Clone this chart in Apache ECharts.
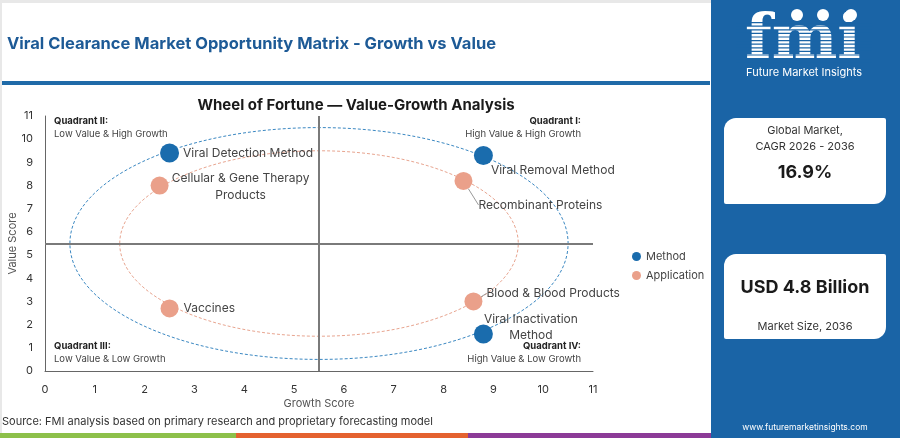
<!DOCTYPE html>
<html>
<head>
<meta charset="utf-8">
<script src="https://cdn.jsdelivr.net/npm/echarts@6.0.0/dist/echarts.min.js"></script>
<style>
  html, body { margin: 0; padding: 0; background: #ffffff; }
  #chart { width: 900px; height: 438px; }
</style>
</head>
<body>
<div id="chart"></div>
<script>
// ---------- data ----------
const methodNames  = ['Viral Removal Method', 'Viral Detection Method', 'Viral Inactivation\nMethod'];
const methodGrowth = [8.8, 2.5, 8.8];
const methodValue  = [9.3, 9.4, 1.6];

const appNames  = ['Recombinant Proteins', 'Cellular & Gene Therapy\nProducts', 'Blood & Blood Products', 'Vaccines'];
const appGrowth = [8.4, 2.3, 8.6, 2.5];
const appValue  = [8.2, 8.0, 3.0, 2.7];

// reference rings: [centre growth, centre value, radius]
const ringMethod = [5.5, 5.5, 5];
const ringApp    = [5.5, 5.5, 4];

const quadrantSplit = 5.5;
const axisTicks = [0, 11, 1]; // min, max, interval

// ---------- presentation ----------
const FONT = 'Inter, "Open Sans", sans-serif';
const BLUE = '#1a6cad';
const SALMON = '#eaa08a';
const PANEL = '#1a64a6';

// label shifts (px) and alignment per point
const methodShift = [[-7, 15, 'left'], [-1, 0, 'left'], [33, -7, 'center']];
const methodLine  = [false, false, false];
const appShift    = [[1, 24, 'left'], [67, 1, 'center'], [-1, -8, 'left'], [0, 0, 'left']];
const appLine     = [true, false, true, false];

function buildPoints(names, xs, ys, shifts, lines) {
  return names.map((n, i) => ({
    name: n,
    value: [xs[i], ys[i]],
    label: { align: shifts[i][2] },
    labelLine: { show: lines[i], lineStyle: { color: '#999', width: 1 }, length2: 0 }
  }));
}

function ringItem(color) {
  return function (params, api) {
    const c = api.coord([api.value(0), api.value(1)]);
    const s = api.size([api.value(2), api.value(2)]);
    return {
      type: 'ellipse',
      silent: true,
      shape: { cx: c[0], cy: c[1], rx: s[0], ry: s[1] },
      style: { fill: 'none', stroke: color, lineWidth: 1, lineDash: [3, 2] }
    };
  };
}

const chart = echarts.init(document.getElementById('chart'), null, { renderer: 'canvas' });

function qText(x, y, title, sub, align) {
  return [
    { type: 'text', x: x, y: y, style: { text: title, font: 'bold 9.5px ' + FONT, fill: '#222', align: align, verticalAlign: 'middle' } },
    { type: 'text', x: x, y: y + 13, style: { text: sub, font: '9.5px ' + FONT, fill: '#444', align: align, verticalAlign: 'middle' } }
  ];
}

// logo stripes
const stripes = [];
for (let k = 0; k < 12; k++) {
  stripes.push({ type: 'rect', shape: { x: 736, y: 22 + k * 3.6, width: 136, height: 1.2 }, style: { fill: PANEL }, z: 12 });
}

const option = {
  backgroundColor: '#ffffff',
  animation: false,
  textStyle: { fontFamily: FONT },
  grid: { left: 45, right: 307, top: 116, bottom: 67, containLabel: false, outerBoundsMode: 'none' },
  legend: {
    orient: 'vertical',
    left: 627, top: 246,
    itemGap: 8, itemWidth: 9, itemHeight: 9,
    icon: 'circle',
    data: ['Method', 'Application'],
    textStyle: { fontSize: 11, color: '#444', fontFamily: FONT }
  },
  xAxis: {
    type: 'value', min: axisTicks[0], max: axisTicks[1], interval: axisTicks[2],
    name: 'Growth Score', nameLocation: 'middle', nameGap: 27, nameMoveOverlap: false,
    nameTextStyle: { fontSize: 11, color: '#555', fontFamily: FONT },
    axisLine: { show: true, lineStyle: { color: '#666', width: 1 } },
    axisTick: { show: false },
    axisLabel: { margin: 13, fontSize: 11, color: '#333', fontFamily: FONT },
    splitLine: { show: false }
  },
  yAxis: {
    type: 'value', min: axisTicks[0], max: axisTicks[1], interval: axisTicks[2],
    name: 'Value Score', nameLocation: 'middle', nameGap: 27, nameMoveOverlap: false,
    nameTextStyle: { fontSize: 11, color: '#555', fontFamily: FONT },
    axisLine: { show: true, lineStyle: { color: '#666', width: 1 } },
    axisTick: { show: false },
    axisLabel: { margin: 12, fontSize: 11, color: '#333', fontFamily: FONT },
    splitLine: { show: false }
  },
  series: [
    {
      type: 'custom', name: 'ringMethod', silent: true, clip: false, z: 1,
      encode: { x: 0, y: 1 },
      data: [ringMethod],
      renderItem: ringItem('#3b88c2'),
      markLine: {
        silent: true, symbol: 'none', animation: false,
        label: { show: false },
        lineStyle: { color: '#7a7a7a', width: 2, type: 'solid' },
        data: [{ xAxis: quadrantSplit }, { yAxis: quadrantSplit }]
      }
    },
    {
      type: 'custom', name: 'ringApp', silent: true, clip: false, z: 1,
      encode: { x: 0, y: 1 },
      data: [ringApp],
      renderItem: ringItem('#e8a590')
    },
    {
      type: 'scatter', name: 'Method', z: 5,
      symbolSize: 19,
      itemStyle: { color: BLUE, opacity: 1 },
      data: buildPoints(methodNames, methodGrowth, methodValue, methodShift, methodLine),
      label: {
        show: true, position: 'right', distance: 5,
        formatter: '{b}', fontSize: 12, color: '#444', lineHeight: 16, fontFamily: FONT
      },
      labelLayout: function (p) { const s = methodShift[p.dataIndex]; return { dx: s[0], dy: s[1] }; }
    },
    {
      type: 'scatter', name: 'Application', z: 5,
      symbolSize: 18,
      itemStyle: { color: SALMON, opacity: 1 },
      data: buildPoints(appNames, appGrowth, appValue, appShift, appLine),
      label: {
        show: true, position: 'right', distance: 5,
        formatter: '{b}', fontSize: 12, color: '#444', lineHeight: 17, fontFamily: FONT
      },
      labelLayout: function (p) { const s = appShift[p.dataIndex]; return { dx: s[0], dy: s[1] }; }
    }
  ],
  graphic: [
    // outer light border
    { type: 'rect', shape: { x: 0, y: 0, width: 712, height: 3 }, style: { fill: '#e8e8e8' }, z: 0 },
    { type: 'rect', shape: { x: 0, y: 0, width: 2, height: 434 }, style: { fill: '#e8e8e8' }, z: 0 },
    // header title
    { type: 'text', x: 7, y: 44, style: { text: 'Viral Clearance Market Opportunity Matrix - Growth vs Value', font: 'bold 16.5px ' + FONT, fill: '#1d5a96', verticalAlign: 'middle' } },
    { type: 'rect', shape: { x: 2, y: 81, width: 708, height: 4 }, style: { fill: '#1f6aa8' } },
    // chart title
    { type: 'text', x: 356, y: 105, style: { text: 'Wheel of Fortune \u2014 Value-Growth Analysis', font: 'bold 15px ' + FONT, fill: '#1a1a1a', align: 'center', verticalAlign: 'middle' } },
    // quadrant labels
    ...qText(54, 121, 'Quadrant II:', 'Low Value & High Growth', 'left'),
    ...qText(581, 121, 'Quadrant I:', 'High Value & High Growth', 'right'),
    ...qText(54, 346, 'Quadrant III:', 'Low Value & Low Growth', 'left'),
    ...qText(581, 346, 'Quadrant IV:', 'High Value & Low Growth', 'right'),
    // source
    { type: 'text', x: 2, y: 422, style: { text: 'Source: FMI analysis based on primary research and proprietary forecasting model', font: '11px ' + FONT, fill: '#333', verticalAlign: 'middle' } },
    // bottom colour bar
    { type: 'rect', shape: { x: 0, y: 433, width: 236, height: 5 }, style: { fill: '#8dc04a' } },
    { type: 'rect', shape: { x: 236, y: 433, width: 232, height: 5 }, style: { fill: '#e4622f' } },
    { type: 'rect', shape: { x: 468, y: 433, width: 244, height: 5 }, style: { fill: '#8c3b97' } },
    // right panel
    { type: 'rect', shape: { x: 711, y: 0, width: 189, height: 438 }, style: { fill: PANEL }, z: 10 },
    // logo
    { type: 'text', x: 803, y: 42, z: 11, style: { text: 'fmi', font: 'bold 62px "DejaVu Serif", serif', fill: '#ffffff', align: 'center', verticalAlign: 'middle' } },
    ...stripes,
    { type: 'circle', shape: { cx: 797, cy: 15, r: 6 }, style: { fill: '#ffffff' }, z: 13 },
    { type: 'circle', shape: { cx: 823, cy: 15, r: 6 }, style: { fill: '#ffffff' }, z: 13 },
    { type: 'circle', shape: { cx: 851, cy: 15, r: 6 }, style: { fill: '#ffffff' }, z: 13 },
    { type: 'text', x: 804, y: 73, z: 13, style: { text: 'Future Market Insights', font: '11px ' + FONT, fill: '#ffffff', align: 'center', verticalAlign: 'middle' } },
    // card 1
    { type: 'rect', z: 11, shape: { x: 724, y: 118, width: 162, height: 86, r: [12, 2, 12, 2] }, style: { fill: '#ffffff' } },
    { type: 'text', z: 12, x: 805, y: 131, style: { text: 'Global Market,', font: '11px ' + FONT, fill: '#333', align: 'center', verticalAlign: 'middle' } },
    { type: 'text', z: 12, x: 805, y: 147, style: { text: 'CAGR 2026 - 2036', font: '11px ' + FONT, fill: '#333', align: 'center', verticalAlign: 'middle' } },
    { type: 'text', z: 12, x: 805, y: 173, style: { text: '16.9%', font: 'bold 18px ' + FONT, fill: '#1a1a1a', align: 'center', verticalAlign: 'middle' } },
    // card 2
    { type: 'rect', z: 11, shape: { x: 724, y: 254, width: 162, height: 85, r: [12, 2, 12, 2] }, style: { fill: '#ffffff' } },
    { type: 'text', z: 12, x: 805, y: 288, style: { text: 'USD 4.8 Billion', font: 'bold 18px ' + FONT, fill: '#1a1a1a', align: 'center', verticalAlign: 'middle' } },
    { type: 'text', z: 12, x: 805, y: 327, style: { text: 'Market Size, 2036', font: '11px ' + FONT, fill: '#333', align: 'center', verticalAlign: 'middle' } },
    // website
    { type: 'text', z: 12, x: 805, y: 427, style: { text: 'www.futuremarketinsights.com', font: '8.5px ' + FONT, fill: '#ffffff', align: 'center', verticalAlign: 'middle' } }
  ]
};

chart.setOption(option);
</script>
</body>
</html>
